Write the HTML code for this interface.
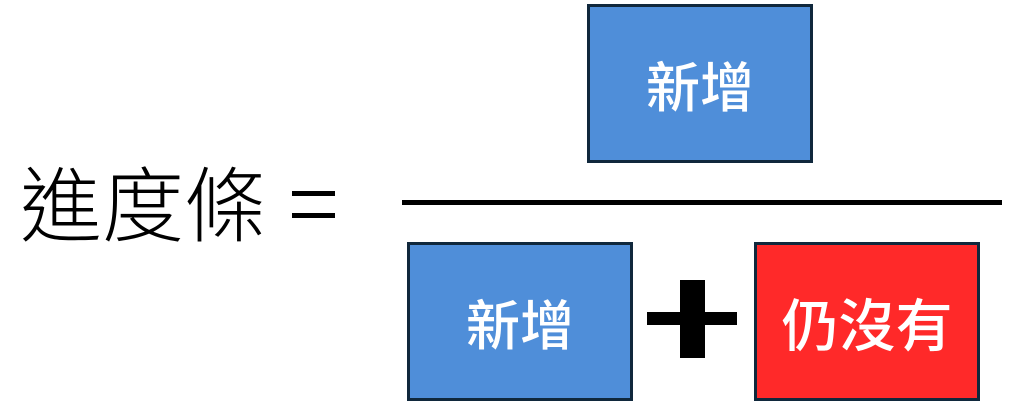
<!DOCTYPE html>
<html><head><meta charset="utf-8"><style>
body{margin:0;width:1026px;height:414px;background:#fff;position:relative;overflow:hidden;font-family:"Liberation Sans","Noto Sans CJK TC",sans-serif}
.b{position:absolute;box-sizing:border-box;border:3px solid #10283c;color:#fff;font-weight:500;display:flex;align-items:center;justify-content:center;font-size:54px;font-family:"Noto Sans CJK TC",sans-serif}
.k{position:absolute;background:#000}
</style></head><body>
<div style="position:absolute;left:20px;top:150px;font-size:82px;line-height:100px;font-family:'Noto Sans CJK TC',sans-serif;font-weight:300;color:#000">進度條</div>
<div class="k" style="left:292px;top:191px;width:43px;height:5px"></div>
<div class="k" style="left:292px;top:213px;width:43px;height:5px"></div>
<div class="b" style="left:587px;top:4px;width:226px;height:159px;background:#4f8ed9">新增</div>
<div class="k" style="left:402px;top:200px;width:600px;height:5px"></div>
<div class="b" style="left:407px;top:242px;width:226px;height:159px;background:#4f8ed9">新增</div>
<div class="b" style="left:754px;top:242px;width:226px;height:159px;background:#ff2929;font-size:57px">仍沒有</div>
<div class="k" style="left:680px;top:280px;width:25px;height:78px"></div>
<div class="k" style="left:647px;top:312px;width:90px;height:13px"></div>
</body></html>
